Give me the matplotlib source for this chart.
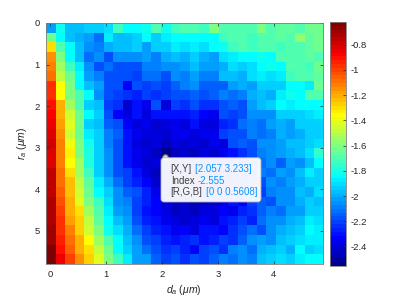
import numpy as np
import matplotlib
matplotlib.use("Agg")
import matplotlib.pyplot as plt
from matplotlib.colors import ListedColormap
from matplotlib.patches import FancyBboxPatch

plt.rcParams['font.family'] = ['Liberation Sans', 'DejaVu Sans']
plt.rcParams['mathtext.fontset'] = 'custom'
plt.rcParams['mathtext.rm'] = 'Liberation Sans'
plt.rcParams['mathtext.it'] = 'Liberation Sans:italic'
plt.rcParams['axes.unicode_minus'] = False

# grid: 29 columns (d_a), 25 rows (r_a)
dx = 2.057 / 12
y_max = 5.8
x_ticks = [0, 1, 2, 3, 4]
y_ticks = [0, 1, 2, 3, 4, 5]
cbar_ticks = [-0.8, -1, -1.2, -1.4, -1.6, -1.8, -2, -2.2, -2.4]

# datatip
tip_x, tip_y = 2.057, 3.233
tip_index = -2.555
tip_rgb = "[0 0 0.5608]"

# values, top row first
Z = np.array([
    [-2.02, -1.81, -1.97, -1.97, -1.93, -1.93, -1.90, -1.73, -1.83, -1.83, -1.82, -1.68, -1.80, -1.73, -1.70, -1.70, -1.72, -1.60, -1.70, -1.68, -1.68, -1.68, -1.60, -1.68, -1.66, -1.66, -1.68, -1.62, -1.64],
    [-1.64, -1.83, -1.97, -2.00, -2.02, -2.12, -1.88, -1.97, -1.97, -1.93, -1.85, -1.95, -1.88, -1.83, -1.83, -1.83, -1.84, -1.83, -1.72, -1.70, -1.68, -1.72, -1.68, -1.70, -1.66, -1.68, -1.58, -1.66, -1.64],
    [-1.30, -1.68, -1.83, -1.97, -2.05, -2.10, -2.00, -1.97, -1.97, -1.95, -2.02, -1.93, -1.93, -1.88, -1.90, -1.88, -1.90, -1.83, -1.82, -1.72, -1.70, -1.72, -1.68, -1.70, -1.72, -1.68, -1.70, -1.66, -1.64],
    [-1.15, -1.59, -1.83, -1.97, -2.12, -2.07, -2.17, -2.07, -2.07, -2.07, -2.02, -2.10, -2.00, -1.97, -2.00, -1.93, -2.00, -2.02, -1.90, -1.88, -1.83, -1.83, -1.82, -1.84, -1.70, -1.68, -1.70, -1.66, -1.68],
    [-1.13, -1.54, -1.73, -1.88, -2.07, -2.17, -2.12, -2.17, -2.17, -2.19, -2.10, -2.10, -2.07, -2.05, -2.02, -1.97, -2.02, -2.02, -2.00, -1.92, -1.93, -1.90, -1.83, -1.82, -1.84, -1.70, -1.68, -1.72, -1.62],
    [-1.08, -1.47, -1.64, -1.83, -2.02, -2.10, -2.17, -2.17, -2.17, -2.22, -2.12, -2.12, -2.17, -2.05, -2.10, -2.02, -2.10, -2.10, -1.97, -1.97, -1.99, -1.90, -1.88, -1.90, -1.86, -1.73, -1.70, -1.68, -1.66],
    [-0.96, -1.35, -1.59, -1.83, -1.97, -2.02, -2.17, -2.19, -2.34, -2.19, -2.22, -2.19, -2.22, -2.15, -2.10, -2.07, -2.15, -2.14, -2.16, -2.02, -2.00, -2.02, -1.95, -1.93, -1.95, -1.83, -1.84, -1.88, -1.64],
    [-0.98, -1.35, -1.59, -1.68, -1.83, -2.05, -2.19, -2.22, -2.24, -2.27, -2.22, -2.24, -2.22, -2.19, -2.17, -2.15, -2.17, -2.16, -2.10, -2.12, -2.08, -2.00, -1.98, -2.00, -1.88, -1.81, -1.85, -1.70, -1.68],
    [-0.91, -1.20, -1.54, -1.68, -1.93, -1.97, -2.22, -2.24, -2.43, -2.31, -2.36, -2.17, -2.39, -2.22, -2.24, -2.17, -2.25, -2.24, -2.17, -2.15, -2.17, -2.02, -1.97, -1.95, -1.83, -1.88, -1.83, -1.85, -1.83],
    [-0.89, -1.20, -1.44, -1.64, -1.83, -1.95, -2.17, -2.34, -2.39, -2.29, -2.39, -2.29, -2.30, -2.29, -2.30, -2.28, -2.33, -2.36, -2.19, -2.20, -2.17, -2.07, -2.07, -2.05, -1.95, -1.93, -1.95, -1.90, -1.88],
    [-0.84, -1.18, -1.42, -1.64, -1.95, -1.97, -2.15, -2.17, -2.34, -2.39, -2.36, -2.41, -2.39, -2.36, -2.39, -2.29, -2.38, -2.40, -2.26, -2.24, -2.12, -2.10, -2.12, -2.02, -2.00, -2.02, -1.95, -1.93, -1.93],
    [-0.81, -1.15, -1.45, -1.64, -1.88, -1.95, -2.10, -2.15, -2.31, -2.36, -2.40, -2.38, -2.42, -2.37, -2.36, -2.40, -2.35, -2.37, -2.21, -2.19, -2.17, -2.10, -2.12, -2.08, -2.00, -2.02, -1.99, -1.93, -1.95],
    [-0.80, -1.13, -1.38, -1.60, -1.81, -1.93, -2.10, -2.17, -2.31, -2.38, -2.43, -2.40, -2.45, -2.40, -2.42, -2.39, -2.41, -2.37, -2.40, -2.17, -2.15, -2.19, -2.05, -2.07, -2.04, -1.97, -1.98, -1.95, -1.90],
    [-0.81, -1.13, -1.33, -1.59, -1.78, -1.93, -2.07, -2.17, -2.31, -2.36, -2.40, -2.44, -2.555, -2.45, -2.42, -2.46, -2.40, -2.43, -2.36, -2.30, -2.24, -2.17, -2.10, -2.05, -2.02, -2.00, -1.97, -1.90, -1.75],
    [-0.81, -1.13, -1.35, -1.54, -1.78, -1.95, -2.07, -2.17, -2.31, -2.36, -2.43, -2.40, -2.47, -2.44, -2.48, -2.45, -2.42, -2.38, -2.40, -2.33, -2.36, -2.24, -2.12, -2.07, -2.14, -2.02, -2.05, -1.97, -1.85],
    [-0.77, -1.10, -1.30, -1.54, -1.73, -1.93, -2.05, -2.19, -2.22, -2.31, -2.39, -2.44, -2.42, -2.46, -2.43, -2.49, -2.45, -2.40, -2.36, -2.38, -2.30, -2.26, -2.10, -2.12, -2.02, -2.05, -1.97, -1.88, -1.93],
    [-0.77, -1.08, -1.25, -1.47, -1.66, -1.88, -2.00, -2.12, -2.22, -2.27, -2.34, -2.41, -2.44, -2.50, -2.47, -2.43, -2.46, -2.39, -2.42, -2.33, -2.28, -2.22, -2.17, -2.07, -2.10, -2.02, -2.00, -1.95, -1.93],
    [-0.77, -1.06, -1.23, -1.44, -1.64, -1.83, -1.95, -2.07, -2.14, -2.19, -2.27, -2.36, -2.45, -2.43, -2.49, -2.44, -2.40, -2.44, -2.36, -2.33, -2.26, -2.19, -2.20, -2.10, -2.05, -2.07, -1.97, -2.00, -1.92],
    [-0.74, -1.03, -1.20, -1.42, -1.59, -1.72, -1.90, -2.05, -2.10, -2.22, -2.27, -2.34, -2.40, -2.46, -2.42, -2.47, -2.44, -2.41, -2.38, -2.30, -2.33, -2.22, -2.15, -2.17, -2.07, -2.05, -2.00, -1.95, -1.97],
    [-0.72, -1.01, -1.20, -1.30, -1.54, -1.69, -1.88, -2.02, -2.07, -2.22, -2.31, -2.33, -2.38, -2.44, -2.41, -2.45, -2.40, -2.38, -2.33, -2.36, -2.26, -2.24, -2.15, -2.10, -2.12, -2.02, -2.02, -1.93, -1.95],
    [-0.72, -0.98, -1.18, -1.28, -1.49, -1.66, -1.83, -1.97, -2.02, -2.17, -2.27, -2.31, -2.36, -2.39, -2.42, -2.38, -2.35, -2.40, -2.31, -2.28, -2.22, -2.26, -2.12, -2.07, -2.05, -2.00, -1.97, -1.88, -1.90],
    [-0.70, -0.96, -1.13, -1.28, -1.44, -1.59, -1.81, -1.90, -2.00, -2.12, -2.22, -2.26, -2.30, -2.36, -2.33, -2.38, -2.31, -2.30, -2.34, -2.24, -2.19, -2.12, -2.17, -2.05, -2.00, -1.98, -1.93, -1.85, -1.88],
    [-0.70, -0.93, -1.10, -1.20, -1.35, -1.54, -1.68, -1.83, -1.97, -2.07, -2.17, -2.22, -2.26, -2.31, -2.28, -2.24, -2.30, -2.26, -2.20, -2.24, -2.14, -2.07, -2.02, -2.05, -1.97, -1.93, -1.90, -1.86, -1.88],
    [-0.65, -0.91, -1.06, -1.20, -1.30, -1.47, -1.64, -1.83, -1.93, -2.02, -2.12, -2.19, -2.24, -2.22, -2.28, -2.33, -2.22, -2.19, -2.24, -2.10, -2.07, -2.12, -2.00, -1.97, -1.95, -2.00, -1.85, -1.93, -1.90],
    [-0.62, -0.84, -1.01, -1.15, -1.28, -1.42, -1.59, -1.73, -1.88, -2.02, -2.02, -2.15, -2.20, -2.17, -2.24, -2.17, -2.20, -2.15, -2.10, -2.12, -2.05, -2.08, -1.97, -1.93, -1.90, -1.95, -1.88, -1.85, -1.83],
])


def matlab_jet(m=64):
    # same construction as MATLAB's jet(m)
    n = int(np.ceil(m / 4))
    u = np.r_[np.arange(1, n + 1) / n, np.ones(n - 1), np.arange(n, 0, -1) / n]
    g = int(np.ceil(n / 2)) - int(m % 4 == 1) + np.arange(1, len(u) + 1)
    r = g + n
    b = g - n
    g = g[g <= m]
    r = r[r <= m]
    b = b[b >= 1]
    J = np.zeros((m, 3))
    J[r - 1, 0] = u[:len(r)]
    J[g - 1, 1] = u[:len(g)]
    J[b - 1, 2] = u[len(u) - len(b):]
    return ListedColormap(J)


gray = '#262626'
fig = plt.figure(figsize=(3.99, 2.99), dpi=100)
ax = fig.add_axes([45.5 / 399, 1 - 264 / 299, 277.5 / 399, 241 / 299])

ncol = Z.shape[1]
x0, x1 = -dx / 2, (ncol - 0.5) * dx
im = ax.imshow(Z, cmap=matlab_jet(64), aspect='auto', interpolation='nearest',
               extent=[x0, x1, y_max, 0], origin='upper')
ax.set_xlim(x0, x1)
ax.set_ylim(y_max, 0)
ax.set_xticks(x_ticks)
ax.set_yticks(y_ticks)
ax.tick_params(direction='in', top=True, right=True, length=2.5, width=0.5,
               labelsize=6.8, colors=gray, pad=4)
for s in ax.spines.values():
    s.set_color('#808080')
    s.set_linewidth(0.6)

ax.set_xlabel(r'$d_a$ $(\mu m)$', fontsize=7.5, color=gray, labelpad=3)
ax.set_ylabel(r'$r_a$ $(\mu m)$', fontsize=7.5, color=gray, labelpad=4)

# colorbar
cax = fig.add_axes([330 / 399, 1 - 266 / 299, 16 / 399, 244 / 299])
cb = fig.colorbar(im, cax=cax, ticks=cbar_ticks)
cb.ax.set_yticklabels(['%g' % t for t in cbar_ticks])
cb.ax.tick_params(direction='in', length=2.5, width=0.5, labelsize=6.8,
                  colors=gray, pad=3)
cb.outline.set_edgecolor('#808080')
cb.outline.set_linewidth(0.6)

# datatip
ax.plot([tip_x], [tip_y], 'o', ms=4, mfc='#d9d9d9', mec='#6e6e6e', mew=0.8,
        zorder=5)
box = FancyBboxPatch((1.61, 0.97), 1.00, 0.443,
                     boxstyle='round,pad=0,rounding_size=0.03',
                     transform=fig.dpi_scale_trans, fc='white', ec='#b0b0b0',
                     lw=0.6, alpha=0.95, zorder=10)
fig.patches.append(box)
lab_c = '#404040'
val_c = '#0a96ff'
lines = [
    ('[X,Y]', '[%.3f %.3f]' % (tip_x, tip_y), 1.30),
    ('Index', '%.3f' % tip_index, 1.183),
    ('[R,G,B]', tip_rgb, 1.073),
]
for lab, val, yl in lines:
    t = fig.text(1.707 / 3.99, yl / 2.99, lab, fontsize=7, color=lab_c,
                 va='center', ha='left', zorder=11)
    fig.add_artist(plt.Annotation(val, xy=(1, 0.5), xycoords=t,
                                  xytext=(2.2, 0), textcoords='offset points',
                                  fontsize=7, color=val_c, va='center',
                                  ha='left', zorder=11))

fig.savefig('out.png', dpi=100)
